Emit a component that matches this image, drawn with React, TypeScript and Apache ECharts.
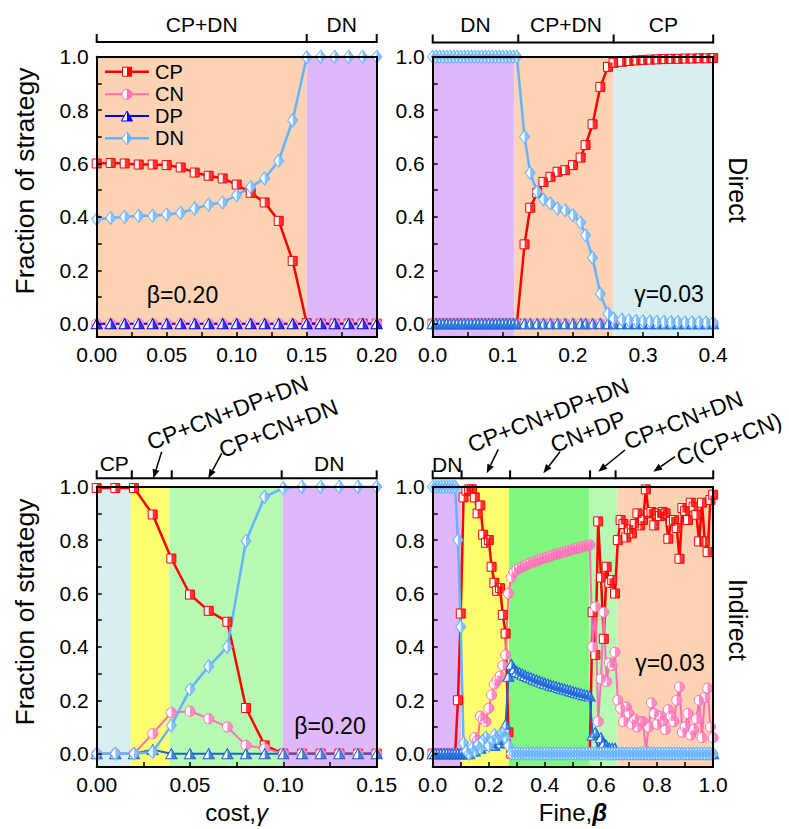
import React, { useEffect, useRef } from "react";
import * as echarts from "echarts";

const FONT = "'Liberation Sans', Arial, Helvetica, sans-serif";

// ---------------- DATA ----------------
// Top-left: Direct, beta = 0.20, x = cost gamma
const tlX = [0, 0.01, 0.02, 0.03, 0.04, 0.05, 0.06, 0.07, 0.08, 0.09, 0.1, 0.11, 0.12, 0.13, 0.14, 0.15, 0.16, 0.17, 0.18, 0.19, 0.2];
const tlCP = [0.6, 0.602, 0.6, 0.596, 0.596, 0.594, 0.585, 0.566, 0.554, 0.544, 0.521, 0.49, 0.454, 0.385, 0.235, 0.002, 0, 0, 0, 0, 0];
const tlCN = [0, 0, 0, 0, 0, 0, 0, 0, 0, 0, 0, 0, 0, 0, 0, 0, 0, 0, 0, 0, 0];
const tlDP = [0, 0, 0, 0, 0, 0, 0, 0, 0, 0, 0, 0, 0, 0, 0, 0, 0, 0, 0, 0, 0];
const tlDN = [0.391, 0.396, 0.4, 0.404, 0.404, 0.409, 0.415, 0.431, 0.446, 0.454, 0.481, 0.512, 0.544, 0.61, 0.762, 0.998, 1, 1, 1, 1, 1];

// Top-right: Direct, gamma = 0.03, x = fine beta
const trX = [
  0, 0.005, 0.01, 0.015, 0.02, 0.025, 0.03, 0.035, 0.04, 0.045, 0.05, 0.055, 0.06, 0.065, 0.07, 0.075, 0.08, 0.085, 0.09, 0.095, 0.1, 0.105, 0.11, 0.115, 0.12,
  0.131, 0.139, 0.149, 0.158, 0.168, 0.178, 0.189, 0.2, 0.211, 0.218, 0.228, 0.239, 0.25, 0.258,
  0.27, 0.28, 0.29, 0.3, 0.31, 0.32, 0.33, 0.34, 0.35, 0.36, 0.37, 0.38, 0.39, 0.4,
];
const trCP = [
  0, 0, 0, 0, 0, 0, 0, 0, 0, 0, 0, 0, 0, 0, 0, 0, 0, 0, 0, 0, 0, 0, 0, 0, 0,
  0.297, 0.434, 0.49, 0.531, 0.55, 0.569, 0.575, 0.594, 0.622, 0.669, 0.747, 0.887, 0.962, 0.977,
  0.981, 0.984, 0.986, 0.988, 0.989, 0.99, 0.991, 0.992, 0.992, 0.993, 0.993, 0.994, 0.994, 0.995,
];
const trCN = [
  0, 0, 0, 0, 0, 0, 0, 0, 0, 0, 0, 0, 0, 0, 0, 0, 0, 0, 0, 0, 0, 0, 0, 0, 0,
  0, 0, 0, 0, 0, 0, 0, 0, 0, 0, 0, 0, 0, 0,
  0, 0, 0, 0, 0, 0, 0, 0, 0, 0, 0, 0, 0, 0,
];
const trDP = [
  0, 0, 0, 0, 0, 0, 0, 0, 0, 0, 0, 0, 0, 0, 0, 0, 0, 0, 0, 0, 0, 0, 0, 0, 0,
  0, 0, 0, 0, 0, 0, 0, 0, 0, 0, 0, 0, 0, 0,
  0, 0, 0, 0, 0, 0, 0, 0, 0, 0, 0, 0, 0, 0,
];
const trDN = [
  1, 1, 1, 1, 1, 1, 1, 1, 1, 1, 1, 1, 1, 1, 1, 1, 1, 1, 1, 1, 1, 1, 1, 1, 1,
  0.7, 0.565, 0.494, 0.465, 0.45, 0.431, 0.425, 0.406, 0.379, 0.331, 0.247, 0.112, 0.037, 0.019,
  0.015, 0.012, 0.01, 0.009, 0.008, 0.007, 0.007, 0.006, 0.006, 0.005, 0.005, 0.005, 0.004, 0.004,
];

// Bottom-left: Indirect, beta = 0.20, x = cost gamma
const blX = [0, 0.01, 0.02, 0.03, 0.04, 0.05, 0.06, 0.07, 0.08, 0.09, 0.1, 0.11, 0.12, 0.13, 0.14, 0.15];
const blCP = [0.995, 0.995, 0.995, 0.896, 0.731, 0.596, 0.535, 0.494, 0.171, 0.031, 0, 0, 0, 0, 0, 0];
const blCN = [0, 0, 0, 0.075, 0.154, 0.159, 0.131, 0.1, 0.031, 0.019, 0, 0, 0, 0, 0, 0];
const blDP = [0, 0, 0, 0.015, 0, 0, 0, 0, 0, 0, 0, 0, 0, 0, 0, 0];
const blDN = [0, 0, 0, 0.006, 0.106, 0.241, 0.327, 0.4, 0.797, 0.962, 0.995, 1, 1, 1, 1, 1];

// Bottom-right: Indirect, gamma = 0.03, x = fine beta
const brX = [
  0, 0.01, 0.02, 0.03, 0.04, 0.05, 0.06, 0.07, 0.08, 0.09,
  0.1, 0.11, 0.12, 0.13, 0.14, 0.15, 0.16, 0.17, 0.18, 0.19,
  0.2, 0.21, 0.22, 0.23, 0.24, 0.25, 0.26, 0.27, 0.28, 0.29,
  0.3, 0.31, 0.32, 0.33, 0.34, 0.35, 0.36, 0.37, 0.38, 0.39,
  0.4, 0.41, 0.42, 0.43, 0.44, 0.45, 0.46, 0.47, 0.48, 0.49,
  0.5, 0.51, 0.52, 0.53, 0.54, 0.55, 0.56, 0.57, 0.58, 0.59,
  0.6, 0.61, 0.62, 0.63, 0.64, 0.65, 0.66, 0.67, 0.68, 0.69,
  0.7, 0.71, 0.72, 0.73, 0.74, 0.75, 0.76, 0.77, 0.78, 0.79,
  0.8, 0.81, 0.82, 0.83, 0.84, 0.85, 0.86, 0.87, 0.88, 0.89,
  0.9, 0.91, 0.92, 0.93, 0.94, 0.95, 0.96, 0.97, 0.98, 0.99,
  1.0,
];
const brCP = [
  0, 0, 0, 0, 0, 0, 0, 0, 0, 0.2,
  0.525, 0.96, 0.985, 0.99, 0.99, 0.96, 0.9, 0.93, 0.82, 0.79,
  0.8, 0.7, 0.64, 0.61, 0.62, 0.52, 0.45, 0.08, 0, 0,
  0, 0, 0, 0, 0, 0, 0, 0, 0, 0,
  0, 0, 0, 0, 0, 0, 0, 0, 0, 0,
  0, 0, 0, 0, 0, 0, 0, 0.53, 0.37, 0.87,
  0.66, 0.43, 0.7, 0.64, 0.65, 0.6, 0.8, 0.875, 0.86, 0.81,
  0.84, 0.825, 0.86, 0.9, 0.855, 0.875, 0.99, 0.9, 0.905, 0.855,
  0.9, 0.89, 0.905, 0.9, 0.805, 0.87, 0.875, 0.845, 0.73, 0.92,
  0.91, 0.875, 0.94, 0.925, 0.895, 0.795, 0.94, 0.795, 0.755, 0.95,
  0.97,
];
const brCN = [
  0, 0, 0, 0, 0, 0, 0, 0, 0, 0,
  0, 0, 0, 0.01, 0.03, 0.06, 0.05, 0.14, 0.13, 0.12,
  0.17, 0.22, 0.26, 0.275, 0.29, 0.33, 0.37, 0.6, 0.66, 0.68,
  0.69, 0.695, 0.7, 0.705, 0.71, 0.714, 0.718, 0.722, 0.726, 0.73,
  0.734, 0.737, 0.741, 0.744, 0.747, 0.75, 0.753, 0.756, 0.759, 0.762,
  0.765, 0.768, 0.771, 0.774, 0.777, 0.779, 0.782, 0.4, 0.55, 0.12,
  0.28, 0.53, 0.27, 0.34, 0.33, 0.38, 0.2, 0.17, 0.12, 0.175,
  0.15, 0.11, 0.13, 0.1, 0.12, 0.12, 0.01, 0.1, 0.19, 0.15,
  0.11, 0.14, 0.12, 0.09, 0.165, 0.14, 0.12, 0.2, 0.25, 0.08,
  0.1, 0.15, 0.07, 0.09, 0.13, 0.2, 0.06, 0.21, 0.245, 0.1,
  0.06,
];
const brDP = [
  0, 0, 0, 0, 0, 0, 0, 0, 0, 0,
  0, 0, 0, 0, 0.01, 0.01, 0.03, 0.02, 0.04, 0.03,
  0.03, 0.04, 0.03, 0.05, 0.04, 0.08, 0.11, 0.29, 0.335, 0.318,
  0.308, 0.303, 0.298, 0.293, 0.288, 0.284, 0.28, 0.276, 0.272, 0.268,
  0.264, 0.261, 0.257, 0.254, 0.251, 0.248, 0.245, 0.242, 0.239, 0.236,
  0.233, 0.23, 0.227, 0.224, 0.221, 0.219, 0.216, 0.07, 0.08, 0.01,
  0.06, 0.04, 0.03, 0.02, 0.02, 0.02, 0, 0, 0, 0,
  0, 0, 0, 0, 0, 0, 0, 0, 0, 0,
  0, 0, 0, 0, 0, 0, 0, 0, 0, 0,
  0, 0, 0, 0, 0, 0, 0, 0, 0, 0,
  0,
];
const brDN = [
  1, 1, 1, 1, 1, 1, 1, 1, 1, 0.8,
  0.475, 0.04, 0.01, 0, 0.02, 0.01, 0.03, 0.02, 0.05, 0.06,
  0.03, 0.05, 0.07, 0.06, 0.07, 0.075, 0.06, 0.03, 0, 0,
  0, 0, 0, 0, 0, 0, 0, 0, 0, 0,
  0, 0, 0, 0, 0, 0, 0, 0, 0, 0,
  0, 0, 0, 0, 0, 0, 0, 0, 0, 0,
  0, 0, 0, 0, 0, 0, 0, 0, 0, 0,
  0, 0, 0, 0, 0, 0, 0, 0, 0, 0,
  0, 0, 0, 0, 0, 0, 0, 0, 0, 0,
  0, 0, 0, 0, 0, 0, 0, 0, 0, 0,
  0,
];

// Phase regions (x boundaries) and bracket boundaries
const tlRegions = [0, 0.15, 0.2];
const trRegions = [0, 0.1166, 0.257, 0.4];
const blRegions = [0, 0.0182, 0.0389, 0.0996, 0.15];
const brRegions = [0, 0.102, 0.272, 0.557, 0.658, 1.0];

const tlBracket = [0, 0.15, 0.2];
const trBracket = [0, 0.122, 0.258, 0.4];
const blBracket = [0, 0.0188, 0.0402, 0.0991, 0.15];
const brBracket = [0, 0.103, 0.276, 0.561, 0.652, 1.0];

const tlBracketLabels = ["CP+DN", "DN"];
const trBracketLabels = ["DN", "CP+DN", "CP"];
const blBracketLabels = ["CP", "", "", "DN"];
const brBracketLabels = ["DN", "", "", "", ""];

const blNotes = ["CP+CN+DP+DN", "CP+CN+DN"];
const brNotes = ["CP+CN+DP+DN", "CN+DP", "CP+CN+DN", "C(CP+CN)"];

// Tick values
const yTicks = [0, 0.1, 0.2, 0.3, 0.4, 0.5, 0.6, 0.7, 0.8, 0.9, 1.0];
const yLabels = [0, 0.2, 0.4, 0.6, 0.8, 1.0];
const tlXTicks = [0, 0.025, 0.05, 0.075, 0.1, 0.125, 0.15, 0.175, 0.2];
const tlXLabels = [0, 0.05, 0.1, 0.15, 0.2];
const trXTicks = [0, 0.05, 0.1, 0.15, 0.2, 0.25, 0.3, 0.35, 0.4];
const trXLabels = [0, 0.1, 0.2, 0.3, 0.4];
const blXTicks = [0, 0.025, 0.05, 0.075, 0.1, 0.125, 0.15];
const blXLabels = [0, 0.05, 0.1, 0.15];
const brXTicks = [0, 0.1, 0.2, 0.3, 0.4, 0.5, 0.6, 0.7, 0.8, 0.9, 1.0];
const brXLabels = [0, 0.2, 0.4, 0.6, 0.8, 1.0];

const strategyNames = ["CP", "CN", "DP", "DN"];

// ---------------- STYLE / LAYOUT ----------------
const PEACH = "#FDD3B4";
const PURPLE = "#DEB8FA";
const CYAN = "#D8EEF0";
const YELLOW = "#FFFF70";
const LGREEN = "#B7FAB4";
const GREEN = "#80F880";

const C_CP = "#FF0000";
const C_CN = "#FF6EB4";
const C_DN = "#66B2FF";

const PANELS = [
  {
    left: 96.7, top: 56.7, width: 280, height: 280.3, xMin: 0, xMax: 0.2, digits: 2,
    xTicks: tlXTicks, xLabels: tlXLabels, x: tlX, ys: [tlCP, tlCN, tlDP, tlDN], dp: "#0000EE",
    regions: tlRegions, regionColors: [PEACH, PURPLE], bracket: tlBracket, bracketLabels: tlBracketLabels,
    bracketY: 42, labelY: 24, xName: "",
  },
  {
    left: 432.7, top: 56.7, width: 280.5, height: 280.3, xMin: 0, xMax: 0.4, digits: 1,
    xTicks: trXTicks, xLabels: trXLabels, x: trX, ys: [trCP, trCN, trDP, trDN], dp: "#1565D8",
    regions: trRegions, regionColors: [PURPLE, PEACH, CYAN], bracket: trBracket, bracketLabels: trBracketLabels,
    bracketY: 42.5, labelY: 24, xName: "",
  },
  {
    left: 96.7, top: 486.7, width: 280, height: 280.3, xMin: 0, xMax: 0.15, digits: 2,
    xTicks: blXTicks, xLabels: blXLabels, x: blX, ys: [blCP, blCN, blDP, blDN], dp: "#1565D8",
    regions: blRegions, regionColors: [CYAN, YELLOW, LGREEN, PURPLE], bracket: blBracket, bracketLabels: blBracketLabels,
    bracketY: 478.3, labelY: 463.5, xName: "cost,{i|γ}",
  },
  {
    left: 432.7, top: 486.7, width: 280.5, height: 280.3, xMin: 0, xMax: 1.0, digits: 1,
    xTicks: brXTicks, xLabels: brXLabels, x: brX, ys: [brCP, brCN, brDP, brDN], dp: "#1565D8",
    regions: brRegions, regionColors: [PURPLE, YELLOW, GREEN, LGREEN, PEACH], bracket: brBracket, bracketLabels: brBracketLabels,
    bracketY: 478.3, labelY: 464, xName: "Fine,{bi|β}",
  },
];

// Rotated note layout (center x, y) and arrows (x1, y1, x2, y2)
const NOTE_LAYOUT = [
  { texts: blNotes, pos: [[227.5, 412.5], [278.3, 428.3]],
    arrows: [[161.7, 451.7, 153.3, 478.3], [221.7, 453.3, 208.3, 478.3]] },
  { texts: brNotes, pos: [[548.3, 415], [588, 431.7], [683.3, 420], [729, 439]],
    arrows: [[498.3, 449.3, 486.7, 473.3], [560, 451.7, 543.3, 473.3], [625, 450, 598.3, 471.7], [675, 456.7, 653.3, 471.7]] },
];

const PARAM_TEXTS = [
  { text: "β=0.20", x: 182.5, y: 295 },
  { text: "γ=0.03", x: 669, y: 294 },
  { text: "β=0.20", x: 330, y: 725.5 },
  { text: "γ=0.03", x: 670, y: 663 },
];

const ROW_TITLES = [
  { text: "Direct", y: 190 },
  { text: "Indirect", y: 620 },
];
const Y_NAMES = [
  { text: "Fraction of strategy", y: 181 },
  { text: "Fraction of strategy", y: 612 },
];

const HALF_CIRCLE = "path://M0,0C5.523,0 10,4.477 10,10C10,15.523 5.523,20 0,20Z";
const HALF_TRI = "path://M0,0L10,20L0,20Z";
const HALF_DIAMOND = "path://M0,0L10,10L0,20Z";

const STRATS = [
  { symbol: "rect", size: [9, 9], half: "rect", halfSize: [4.5, 9], halfOffset: [2.25, 0], width: 2.5 },
  { symbol: "circle", size: [10, 10], half: HALF_CIRCLE, halfSize: [5, 10], halfOffset: [2.5, 0], width: 2 },
  { symbol: "triangle", size: [11, 10], half: HALF_TRI, halfSize: [5.5, 10], halfOffset: [2.75, 0], width: 2 },
  { symbol: "diamond", size: [10, 13], half: HALF_DIAMOND, halfSize: [5, 13], halfOffset: [2.5, 0], width: 2.5 },
];

function colorsFor(p: number) {
  return [C_CP, C_CN, PANELS[p].dp, C_DN];
}

function px(p: number, x: number) {
  const P = PANELS[p];
  return P.left + ((x - P.xMin) / (P.xMax - P.xMin)) * P.width;
}

function txt(text: string, x: number, y: number, size: number, extra: any = {}, align = "center") {
  return {
    type: "text", x, y, z: 20, ...extra,
    style: { text, fontSize: size, fontFamily: FONT, fill: "#000", align, verticalAlign: "middle" },
  };
}

function buildOption() {
  const grid: any[] = [];
  const xAxis: any[] = [];
  const yAxis: any[] = [];
  const series: any[] = [];
  const graphic: any[] = [];
  const axisLineStyle = { color: "#000", width: 2 };
  const labelBase = { fontSize: 21, color: "#000", fontFamily: FONT };
  const G = (el: any) => graphic.push({ z: 20, ...el });

  PANELS.forEach((P, p) => {
    grid.push({ left: P.left, top: P.top, width: P.width, height: P.height, show: false });
    xAxis.push({
      type: "value", gridIndex: p, position: "bottom", min: P.xMin, max: P.xMax, z: 5,
      axisLine: { show: true, onZero: false, lineStyle: axisLineStyle },
      axisTick: { show: true, inside: true, length: 5, customValues: P.xTicks, lineStyle: { color: "#000", width: 1.5 } },
      axisLabel: { ...labelBase, margin: 7, customValues: P.xLabels, formatter: (v: number) => v.toFixed(P.digits) },
      splitLine: { show: false },
      name: P.xName, nameLocation: "middle", nameGap: 33,
      nameTextStyle: {
        fontSize: 24, color: "#000", fontFamily: FONT,
        rich: {
          i: { fontSize: 24, fontStyle: "italic", fontFamily: FONT, color: "#000" },
          bi: { fontSize: 24, fontStyle: "italic", fontWeight: "bold", fontFamily: FONT, color: "#000" },
        },
      },
    });
    xAxis.push({
      type: "value", gridIndex: p, position: "top", min: P.xMin, max: P.xMax, z: 5,
      axisLine: { show: true, onZero: false, lineStyle: axisLineStyle },
      axisTick: { show: false }, axisLabel: { show: false }, splitLine: { show: false },
    });
    yAxis.push({
      type: "value", gridIndex: p, position: "left", min: -0.05, max: 1.0, z: 5,
      axisLine: { show: true, onZero: false, lineStyle: axisLineStyle },
      axisTick: { show: true, inside: true, length: 5, customValues: yTicks, lineStyle: { color: "#000", width: 1.5 } },
      axisLabel: { ...labelBase, margin: 8, customValues: yLabels, formatter: (v: number) => v.toFixed(1) },
      splitLine: { show: false },
    });
    yAxis.push({
      type: "value", gridIndex: p, position: "right", min: -0.05, max: 1.0, z: 5,
      axisLine: { show: true, onZero: false, lineStyle: axisLineStyle },
      axisTick: { show: false }, axisLabel: { show: false }, splitLine: { show: false },
    });

    // phase backgrounds
    series.push({
      type: "line", name: "phase-" + p, xAxisIndex: 2 * p, yAxisIndex: 2 * p, data: [], silent: true, z: 1,
      markArea: {
        silent: true,
        data: P.regionColors.map((c, i) => [
          { xAxis: P.regions[i], itemStyle: { color: c, opacity: 1, borderWidth: 0 } },
          { xAxis: P.regions[i + 1] },
        ]),
      },
    });

    const cols = colorsFor(p);
    P.ys.forEach((ys, k) => {
      const S = STRATS[k];
      const data = P.x.map((x, i) => [x, ys[i]]);
      series.push({
        type: "line", name: strategyNames[k], xAxisIndex: 2 * p, yAxisIndex: 2 * p, data,
        symbol: S.symbol, symbolSize: S.size, showSymbol: true, showAllSymbol: true,
        lineStyle: { color: cols[k], width: S.width },
        itemStyle: { color: "#FFFFFF", borderColor: cols[k], borderWidth: 1 },
        emphasis: { disabled: true }, silent: true, z: 2,
      });
      series.push({
        type: "scatter", name: strategyNames[k] + " fill", xAxisIndex: 2 * p, yAxisIndex: 2 * p, data,
        symbol: S.half, symbolSize: S.halfSize, symbolOffset: S.halfOffset,
        itemStyle: { color: cols[k], borderWidth: 0 },
        emphasis: { disabled: true }, silent: true, z: 2,
      });
    });

    // brackets above panel
    const bx = P.bracket.map((v) => px(p, v));
    G({ type: "line", shape: { x1: bx[0], y1: P.bracketY, x2: bx[bx.length - 1], y2: P.bracketY }, style: { stroke: "#000", lineWidth: 2 } });
    bx.forEach((x) => {
      G({ type: "line", shape: { x1: x, y1: P.bracketY - 8, x2: x, y2: P.bracketY + 1 }, style: { stroke: "#000", lineWidth: 2 } });
    });
    P.bracketLabels.forEach((t, i) => {
      if (!t) return;
      G(txt(t, (bx[i] + bx[i + 1]) / 2, P.labelY, 21));
    });
  });

  // rotated notes with arrows
  NOTE_LAYOUT.forEach((N) => {
    N.texts.forEach((t, i) => {
      G(txt(t, N.pos[i][0], N.pos[i][1], 23, { rotation: (21 * Math.PI) / 180 }));
    });
    N.arrows.forEach(([x1, y1, x2, y2]) => {
      const dx = x2 - x1, dy = y2 - y1;
      const len = Math.sqrt(dx * dx + dy * dy);
      const ux = dx / len, uy = dy / len;
      const hl = 9, hw = 3.5;
      const bxp = x2 - ux * hl, byp = y2 - uy * hl;
      G({ type: "line", shape: { x1, y1, x2: bxp, y2: byp }, style: { stroke: "#000", lineWidth: 1.5 } });
      G({
        type: "polygon",
        shape: { points: [[x2, y2], [bxp - uy * hw, byp + ux * hw], [bxp + uy * hw, byp - ux * hw]] },
        style: { fill: "#000" },
      });
    });
  });

  // parameter texts inside panels
  PARAM_TEXTS.forEach((T) => G(txt(T.text, T.x, T.y, 23)));

  // row titles (right) and y-axis titles (left)
  ROW_TITLES.forEach((T) => G(txt(T.text, 738, T.y, 25, { rotation: -Math.PI / 2 })));
  Y_NAMES.forEach((T) => G(txt(T.text, 25, T.y, 26.5, { rotation: Math.PI / 2 })));

  // legend (top-left panel)
  const legendRows = [71.7, 94.3, 116, 138.3];
  const lc = colorsFor(0);
  const mx = 127;
  strategyNames.forEach((name, k) => {
    const y = legendRows[k];
    const c = lc[k];
    G({ type: "line", shape: { x1: 105, y1: y, x2: 149, y2: y }, style: { stroke: c, lineWidth: STRATS[k].width } });
    if (k === 0) {
      G({ type: "rect", shape: { x: mx - 4.5, y: y - 4.5, width: 9, height: 9 }, style: { fill: "#fff", stroke: c, lineWidth: 1 } });
      G({ type: "rect", shape: { x: mx, y: y - 4.5, width: 4.5, height: 9 }, style: { fill: c } });
    } else if (k === 1) {
      G({ type: "circle", shape: { cx: mx, cy: y, r: 5 }, style: { fill: "#fff", stroke: c, lineWidth: 1 } });
      G({ type: "sector", shape: { cx: mx, cy: y, r: 5, r0: 0, startAngle: -Math.PI / 2, endAngle: Math.PI / 2 }, style: { fill: c } });
    } else if (k === 2) {
      G({ type: "polygon", shape: { points: [[mx, y - 5], [mx + 5.5, y + 5], [mx - 5.5, y + 5]] }, style: { fill: "#fff", stroke: c, lineWidth: 1 } });
      G({ type: "polygon", shape: { points: [[mx, y - 5], [mx + 5.5, y + 5], [mx, y + 5]] }, style: { fill: c } });
    } else {
      G({ type: "polygon", shape: { points: [[mx, y - 6.5], [mx + 5, y], [mx, y + 6.5], [mx - 5, y]] }, style: { fill: "#fff", stroke: c, lineWidth: 1 } });
      G({ type: "polygon", shape: { points: [[mx, y - 6.5], [mx + 5, y], [mx, y + 6.5]] }, style: { fill: c } });
    }
    G(txt(name, 155, y, 20, {}, "left"));
  });

  return {
    animation: false,
    backgroundColor: "#FFFFFF",
    textStyle: { fontFamily: FONT },
    grid, xAxis, yAxis, series, graphic,
  };
}

export default function App() {
  const ref = useRef<HTMLDivElement>(null);
  useEffect(() => {
    if (!ref.current) return;
    const chart = echarts.init(ref.current, null, { renderer: "svg" });
    chart.setOption(buildOption() as any);
    return () => chart.dispose();
  }, []);
  return <div ref={ref} style={{ position: "absolute", left: 0, top: 0, width: 789, height: 829 }} />;
}
